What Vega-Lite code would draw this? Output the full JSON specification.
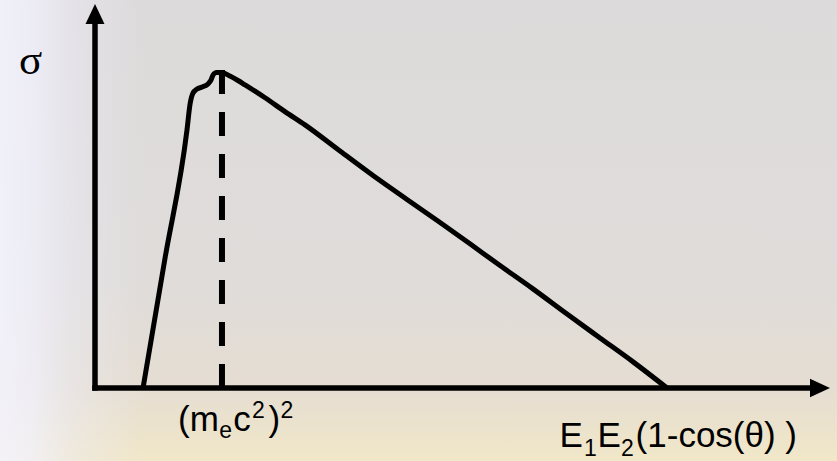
{
  "$schema": "https://vega.github.io/schema/vega-lite/v6.json",
  "description": "Sketch of the photon-photon cross section sigma against E1E2(1-cos(theta)), with the (m_e c^2)^2 scale marked by a dashed line.",
  "width": 735,
  "height": 384,
  "autosize": {"type": "none"},
  "padding": {"left": 95, "top": 4, "right": 7, "bottom": 73},
  "background": "#dedbdb",
  "config": {"view": {"stroke": null}},
  "datasets": {
    "curve": [
      {"s": 0.379, "sigma": 0.0},
      {"s": 0.552, "sigma": 0.411},
      {"s": 0.726, "sigma": 0.82},
      {"s": 0.75, "sigma": 0.902},
      {"s": 0.773, "sigma": 0.937},
      {"s": 0.805, "sigma": 0.95},
      {"s": 0.844, "sigma": 0.956},
      {"s": 0.892, "sigma": 0.966},
      {"s": 0.915, "sigma": 0.978},
      {"s": 0.931, "sigma": 0.994},
      {"s": 0.959, "sigma": 1.002},
      {"s": 1.002, "sigma": 1.002},
      {"s": 1.065, "sigma": 0.991},
      {"s": 1.128, "sigma": 0.977},
      {"s": 1.184, "sigma": 0.963},
      {"s": 1.342, "sigma": 0.922},
      {"s": 1.499, "sigma": 0.878},
      {"s": 1.657, "sigma": 0.836},
      {"s": 1.933, "sigma": 0.753},
      {"s": 2.194, "sigma": 0.675},
      {"s": 2.462, "sigma": 0.599},
      {"s": 2.723, "sigma": 0.526},
      {"s": 2.959, "sigma": 0.458},
      {"s": 3.196, "sigma": 0.389},
      {"s": 3.456, "sigma": 0.315},
      {"s": 3.725, "sigma": 0.235},
      {"s": 3.985, "sigma": 0.159},
      {"s": 4.246, "sigma": 0.083},
      {"s": 4.514, "sigma": 0.0}
    ],
    "axes": [
      {"name": "s", "s0": 0, "s1": 5.7, "y0": 0, "y1": 0},
      {"name": "sigma", "s0": 0, "s1": 0, "y0": 0, "y1": 1.17}
    ],
    "threshold": [{"s": 1.002, "y0": 0, "y1": 1.017}],
    "labels": [
      {"label": "scale", "part": "main", "text": "(m", "s": 0.655, "y": -0.1366},
      {"label": "scale", "part": "script", "text": "e", "s": 0.98, "y": -0.16},
      {"label": "scale", "part": "main", "text": "c", "s": 1.09, "y": -0.1366},
      {"label": "scale", "part": "script", "text": "2", "s": 1.238, "y": -0.0953},
      {"label": "scale", "part": "main", "text": ")", "s": 1.369, "y": -0.1366},
      {"label": "scale", "part": "script", "text": "2", "s": 1.464, "y": -0.0953},
      {"label": "axis", "part": "main", "text": "E", "s": 3.666, "y": -0.1865},
      {"label": "axis", "part": "script", "text": "1", "s": 3.858, "y": -0.216},
      {"label": "axis", "part": "main", "text": "E", "s": 3.965, "y": -0.1865},
      {"label": "axis", "part": "script", "text": "2", "s": 4.151, "y": -0.216},
      {"label": "axis", "part": "main", "text": "(1-cos(θ) )", "s": 4.266, "y": -0.1865}
    ]
  },
  "layer": [
    {
      "data": {"values": [{}]},
      "mark": {
        "type": "rect",
        "color": {
          "gradient": "linear",
          "x1": 0, "y1": 0, "x2": 0, "y2": 1,
          "stops": [
            {"offset": 0, "color": "#dddadb"},
            {"offset": 0.6, "color": "#dfdcda"},
            {"offset": 0.84, "color": "#e5ddd2"},
            {"offset": 1, "color": "#f1e7c8"}
          ]
        }
      },
      "encoding": {
        "x": {"datum": -0.7497, "type": "quantitative", "scale": {"domain": [0, 5.8], "nice": false, "zero": false}, "axis": null},
        "x2": {"datum": 5.855},
        "y": {"datum": -0.2319, "type": "quantitative", "scale": {"domain": [0, 1.22], "nice": false, "zero": false}, "axis": null},
        "y2": {"datum": 1.2327}
      }
    },
    {
      "data": {"values": [{}]},
      "mark": {
        "type": "rect",
        "color": {
          "gradient": "linear",
          "x1": 0, "y1": 0, "x2": 1, "y2": 0,
          "stops": [
            {"offset": 0, "color": "rgba(244,244,255,0.85)"},
            {"offset": 0.04, "color": "rgba(242,242,253,0.75)"},
            {"offset": 0.09, "color": "rgba(238,238,250,0.4)"},
            {"offset": 0.17, "color": "rgba(236,236,248,0)"}
          ]
        }
      },
      "encoding": {
        "x": {"datum": -0.7497, "type": "quantitative"},
        "x2": {"datum": 5.855},
        "y": {"datum": -0.2319, "type": "quantitative"},
        "y2": {"datum": 1.2327}
      }
    },
    {
      "data": {"name": "axes"},
      "mark": {"type": "rule", "color": "#000000", "strokeWidth": 5.5, "strokeCap": "square"},
      "encoding": {
        "x": {"field": "s0", "type": "quantitative"},
        "x2": {"field": "s1"},
        "y": {"field": "y0", "type": "quantitative"},
        "y2": {"field": "y1"}
      }
    },
    {
      "data": {"values": [{"s": 0, "sigma": 1.22}]},
      "mark": {"type": "point", "shape": "M0,0L-0.95,2L0.95,2Z", "size": 400, "filled": true, "color": "#000000", "opacity": 1, "strokeWidth": 0},
      "encoding": {
        "x": {"field": "s", "type": "quantitative"},
        "y": {"field": "sigma", "type": "quantitative"}
      }
    },
    {
      "data": {"values": [{"s": 5.8, "sigma": 0}]},
      "mark": {"type": "point", "shape": "M0,0L-2,-0.92L-2,0.92Z", "size": 400, "filled": true, "color": "#000000", "opacity": 1, "strokeWidth": 0},
      "encoding": {
        "x": {"field": "s", "type": "quantitative"},
        "y": {"field": "sigma", "type": "quantitative"}
      }
    },
    {
      "data": {"name": "curve"},
      "mark": {"type": "line", "interpolate": "monotone", "color": "#000000", "strokeWidth": 5, "strokeJoin": "round", "strokeCap": "butt"},
      "encoding": {
        "x": {"field": "s", "type": "quantitative"},
        "y": {"field": "sigma", "type": "quantitative"}
      }
    },
    {
      "data": {"name": "threshold"},
      "mark": {"type": "rule", "color": "#000000", "strokeWidth": 6, "strokeDash": [24, 18]},
      "encoding": {
        "x": {"field": "s", "type": "quantitative"},
        "y": {"field": "y0", "type": "quantitative"},
        "y2": {"field": "y1"}
      }
    },
    {
      "data": {"values": [{"text": "σ", "s": -0.509, "y": 0.999}]},
      "mark": {"type": "text", "font": "Liberation Serif", "fontSize": 43, "align": "center", "baseline": "alphabetic", "color": "#000000"},
      "encoding": {
        "x": {"field": "s", "type": "quantitative"},
        "y": {"field": "y", "type": "quantitative"},
        "text": {"field": "text"}
      }
    },
    {
      "data": {"name": "labels"},
      "transform": [{"filter": "datum.part === 'main'"}],
      "mark": {"type": "text", "font": "Liberation Sans", "fontSize": 35, "align": "left", "baseline": "alphabetic", "color": "#000000"},
      "encoding": {
        "x": {"field": "s", "type": "quantitative"},
        "y": {"field": "y", "type": "quantitative"},
        "text": {"field": "text"}
      }
    },
    {
      "data": {"name": "labels"},
      "transform": [{"filter": "datum.part === 'script'"}],
      "mark": {"type": "text", "font": "Liberation Sans", "fontSize": 23, "align": "left", "baseline": "alphabetic", "color": "#000000"},
      "encoding": {
        "x": {"field": "s", "type": "quantitative"},
        "y": {"field": "y", "type": "quantitative"},
        "text": {"field": "text"}
      }
    }
  ]
}
